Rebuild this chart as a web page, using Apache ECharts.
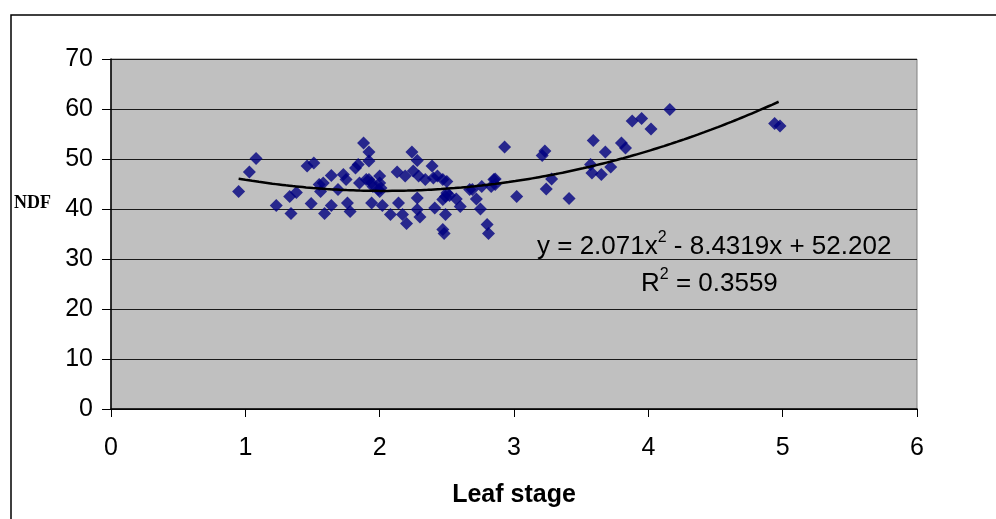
<!DOCTYPE html>
<html>
<head>
<meta charset="utf-8">
<script src="https://cdn.jsdelivr.net/npm/echarts@6/dist/echarts.min.js"></script>
<style>html,body{margin:0;padding:0;background:#fff;}#c{width:996px;height:519px;}</style>
</head>
<body>
<div id="c"></div>
<script>
// Leaf stage (x) and NDF (y)
var leafStage = [0.95,1.03,1.08,1.23,1.34,1.33,1.38,1.46,1.51,1.49,1.55,1.58,1.56,1.64,1.64,1.59,1.88,1.92,1.92,1.84,1.82,1.73,1.75,1.85,1.92,1.94,2.00,2.00,1.99,1.69,1.76,1.78,1.94,2.02,2.08,2.14,2.17,2.20,2.13,2.19,2.24,2.28,2.25,2.29,2.34,2.39,2.43,2.47,2.28,2.28,2.30,2.41,2.47,2.47,2.48,2.93,3.23,3.21,3.28,3.24,3.02,2.86,2.83,2.76,2.69,2.72,2.75,2.80,2.81,2.50,2.49,2.57,2.60,2.49,4.16,3.95,3.88,4.02,3.80,3.83,3.59,3.68,3.57,3.58,3.65,3.72,3.41,4.94,4.98,1.90,1.95,2.00,2.40,2.50,2.52,2.67,2.85,2.86,2.01];
var ndf = [43.5,47.4,50.1,40.7,39.1,42.5,43.3,48.6,49.2,41.1,44.9,45.2,43.5,46.7,40.7,39.1,53.2,51.4,49.6,48.9,48.2,46.9,45.9,45.2,45.9,45.2,46.6,45.2,43.9,43.9,41.2,39.5,41.2,40.7,38.9,41.2,38.9,37.1,47.4,46.6,51.4,49.7,47.6,46.6,45.9,48.6,46.6,45.9,42.2,39.9,38.4,40.2,41.9,35.9,35.1,52.4,51.6,50.7,46.0,44.0,42.5,46.0,44.5,44.5,43.9,42.0,40.0,36.9,35.1,45.5,42.5,42.0,40.5,38.9,59.9,58.1,57.6,56.0,53.2,52.2,53.7,51.4,48.9,47.2,46.9,48.4,42.1,57.1,56.6,45.9,44.5,43.5,46.2,43.2,42.7,43.9,45.9,44.9,44.2];
// Trendline coefficients as printed on the chart: y = a x^2 + b x + c
var trendCoef = [2.071, -8.4319, 52.202];
var trendRange = [0.95, 4.97];
var r2Text = '0.3559';
var xTicks = [0,1,2,3,4,5,6];
var yTicks = [0,10,20,30,40,50,60,70];

var points = leafStage.map(function(x,i){return [x, ndf[i]];});
var trend = [];
for (var k = 0; k <= 80; k++) {
  var x = trendRange[0] + (trendRange[1]-trendRange[0]) * k / 80;
  trend.push([x, trendCoef[0]*x*x + trendCoef[1]*x + trendCoef[2]]);
}

var chart = echarts.init(document.getElementById('c'), null, {renderer:'canvas'});
var font = '"Liberation Sans", Arial, sans-serif';
chart.setOption({
  animation: false,
  backgroundColor: '#ffffff',
  grid: {left:111, right:79, top:59, bottom:110, show:true, backgroundColor:'#c0c0c0', borderColor:'#808080', borderWidth:1},
  xAxis: {
    type:'value', min:xTicks[0], max:xTicks[xTicks.length-1], interval:1,
    name:'Leaf stage', nameLocation:'middle', nameGap:74,
    nameTextStyle:{fontFamily:font, fontWeight:'bold', fontSize:25, color:'#000'},
    axisLine:{show:true, onZero:false, lineStyle:{color:'#000', width:1.5}},
    axisTick:{show:true, length:8, lineStyle:{color:'#000', width:1}},
    axisLabel:{fontFamily:font, fontSize:25, color:'#000', margin:27},
    splitLine:{show:false}
  },
  yAxis: {
    type:'value', min:yTicks[0], max:yTicks[yTicks.length-1], interval:10,
    axisLine:{show:true, onZero:false, lineStyle:{color:'#000', width:1.5}},
    axisTick:{show:true, length:9, lineStyle:{color:'#000', width:1}},
    axisLabel:{fontFamily:font, fontSize:25, color:'#000', margin:18},
    splitLine:{show:true, lineStyle:{color:'#1a1a1a', width:1}}
  },
  series: [
    {type:'scatter', data:points, symbol:'diamond', symbolSize:13, itemStyle:{color:'#000080'}, z:3},
    {type:'line', data:trend, showSymbol:false, symbol:'none', smooth:true, lineStyle:{color:'#000', width:2.5}, z:4}
  ],
  graphic: [
    {type:'rect', shape:{x:11, y:15, width:1100, height:700}, style:{fill:'none', stroke:'#000', lineWidth:1.5}, silent:true},
    {type:'text', left:14, top:194, style:{text:'NDF', font:'bold 18px "Liberation Serif", "Times New Roman", serif', fill:'#000'}},
    {type:'text', left:537, top:230, style:{
      text:'{a|y = ' + trendCoef[0] + 'x}{s|2}{a| - ' + Math.abs(trendCoef[1]) + 'x + ' + trendCoef[2] + '}',
      rich:{a:{fontFamily:font, fontSize:26, fill:'#000', lineHeight:30, verticalAlign:'bottom'}, s:{fontFamily:font, fontSize:16, fill:'#000', lineHeight:30, verticalAlign:'top', padding:[0,0,14,0]}}
    }},
    {type:'text', left:641, top:267, style:{
      text:'{a|R}{s|2}{a| = ' + r2Text + '}',
      rich:{a:{fontFamily:font, fontSize:26, fill:'#000', lineHeight:30, verticalAlign:'bottom'}, s:{fontFamily:font, fontSize:16, fill:'#000', lineHeight:30, verticalAlign:'top', padding:[0,0,14,0]}}
    }}
  ]
});
</script>
</body>
</html>
